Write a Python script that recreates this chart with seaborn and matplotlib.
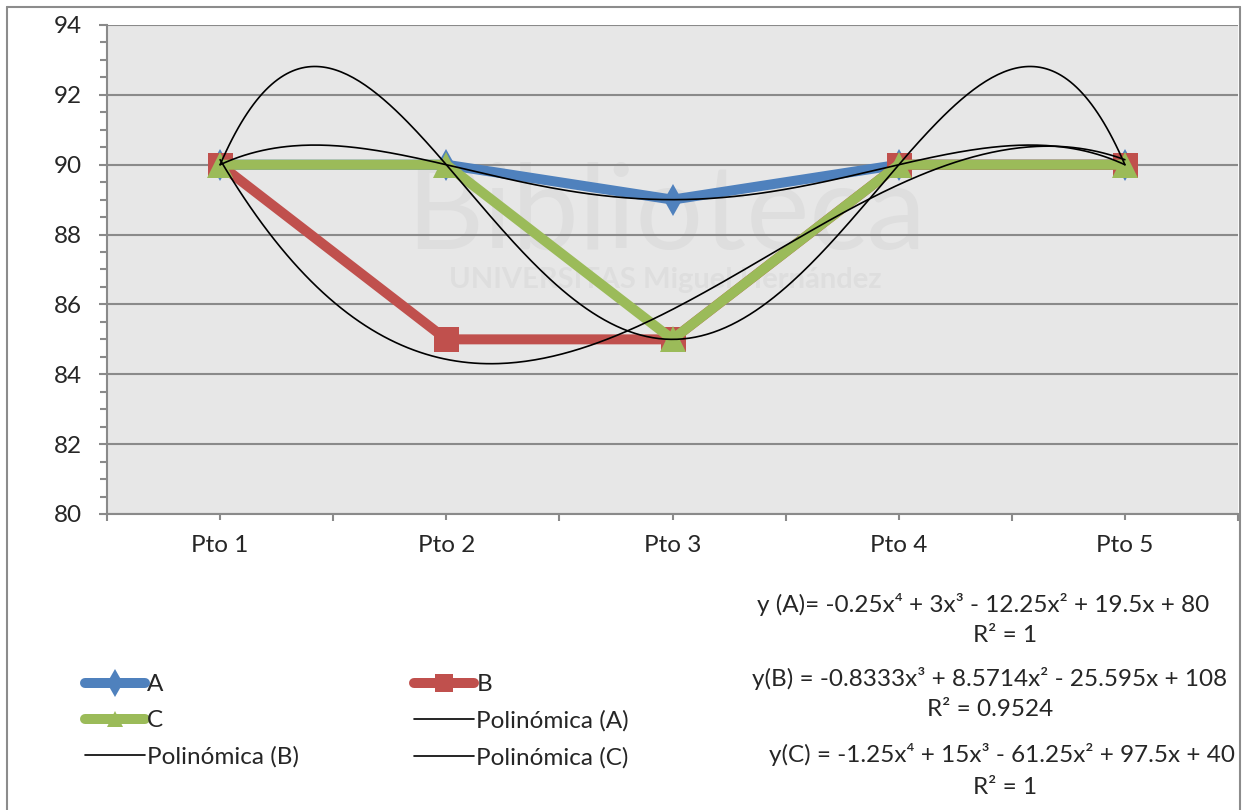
import numpy as np
import pandas as pd
import matplotlib
matplotlib.use("Agg")
import matplotlib.pyplot as plt
import seaborn as sns
from matplotlib.lines import Line2D
from matplotlib.ticker import MultipleLocator, FixedLocator

# ---- data ----
categories = ["Pto 1", "Pto 2", "Pto 3", "Pto 4", "Pto 5"]
serie_a = [90, 90, 89, 90, 90]
serie_b = [90, 85, 85, 90, 90]
serie_c = [90, 90, 85, 90, 90]
series_names = ["A", "B", "C"]
trend_degrees = [4, 3, 4]
y_ticks = [80, 82, 84, 86, 88, 90, 92, 94]
equations = [
    "y (A)= -0.25x⁴ + 3x³ - 12.25x² + 19.5x + 80",
    "R² = 1",
    "y(B) = -0.8333x³ + 8.5714x² - 25.595x + 108",
    "R² = 0.9524",
    "y(C) = -1.25x⁴ + 15x³ - 61.25x² + 97.5x + 40",
    "R² = 1",
]

sns.set_style("white")
plt.rcParams["font.family"] = ["Lato", "DejaVu Sans"]

colors = ["#4F81BD", "#C0504D", "#9BBB59"]
markers = ["d", "s", "^"]
msizes = [16, 18, 19]
FS = 17.5

W, H = 1243, 810
fig = plt.figure(figsize=(W / 100, H / 100), dpi=100)
ax = fig.add_axes([107 / W, 1 - 514 / H, (1238 - 107) / W, (514 - 25) / H])
ax.set_facecolor("#E7E7E7")

# watermark (faint)
ax.text(1.97, 88.55, "Biblioteca", fontsize=86, color="#DEDEDE", ha="center", va="center", zorder=0.5)
ax.text(1.97, 86.7, "UNIVERSITAS Miguel Hernández", fontsize=21, color="#DEDEDE",
        ha="center", va="center", fontweight="bold", zorder=0.5)

xs = np.arange(len(categories))
all_series = [serie_a, serie_b, serie_c]
for name, vals, col, mk, ms in zip(series_names, all_series, colors, markers, msizes):
    df = pd.DataFrame({"x": xs, "y": vals})
    sns.lineplot(data=df, x="x", y="y", ax=ax, color=col, linewidth=7.2, marker=mk,
                 markersize=ms, markeredgewidth=0, solid_joinstyle="round",
                 solid_capstyle="round", zorder=3)

# polynomial trend lines (fit on x = 1..5)
xfit = np.arange(1, len(categories) + 1)
xd = np.linspace(1, len(categories), 300)
for vals, deg in zip(all_series, trend_degrees):
    coef = np.polyfit(xfit, vals, deg)
    yd = np.polyval(coef, xd)
    sns.lineplot(x=xd - 1, y=yd, ax=ax, color="black", linewidth=1.2, zorder=4)

ax.set_xlim(-0.5, len(categories) - 0.5)
ax.set_ylim(80, 94)
ax.set_xticks(xs)
ax.set_xticklabels(categories)
ax.xaxis.set_minor_locator(FixedLocator(np.arange(-0.5, len(categories), 1.0)))
ax.set_yticks(y_ticks)
ax.yaxis.set_minor_locator(MultipleLocator(0.5))
ax.set_xlabel("")
ax.set_ylabel("")

grid_c = "#8A8A8A"
ax.grid(axis="y", which="major", color=grid_c, linewidth=1.5)
ax.grid(axis="x", visible=False)
ax.set_axisbelow(True)
for s in ["top", "right"]:
    ax.spines[s].set_visible(False)
for s in ["left", "bottom"]:
    ax.spines[s].set_color(grid_c)
    ax.spines[s].set_linewidth(1.5)

ax.tick_params(axis="y", which="major", direction="out", length=6, width=1.5,
               color=grid_c, labelsize=FS, pad=12, left=True)
ax.tick_params(axis="y", which="minor", direction="out", length=5, width=1.5,
               color=grid_c, left=True)
ax.tick_params(axis="x", which="major", direction="out", length=4, width=1.5,
               color=grid_c, labelsize=FS, pad=11, bottom=True)
ax.tick_params(axis="x", which="minor", direction="out", length=5, width=1.5,
               color=grid_c, bottom=True)

# figure border (left, top, right)
bc = "#8C8C8C"
fig.add_artist(Line2D([7 / W, 7 / W], [0, 1 - 7 / H], color=bc, linewidth=1.5, transform=fig.transFigure))
fig.add_artist(Line2D([7 / W, 1240 / W], [1 - 7 / H, 1 - 7 / H], color=bc, linewidth=1.5, transform=fig.transFigure))
fig.add_artist(Line2D([1240 / W, 1240 / W], [0, 1 - 7 / H], color=bc, linewidth=1.5, transform=fig.transFigure))

# legend
def series_handle(i, ms):
    return Line2D([], [], color=colors[i], linewidth=7.2, marker=markers[i], markersize=ms,
                  markeredgewidth=0, solid_capstyle="round")

poly = lambda: Line2D([], [], color="black", linewidth=1.2)
handles = [series_handle(0, 14), series_handle(2, 12), poly(),
           series_handle(1, 13), poly(), poly()]
labels = ["A", "C", "Polinómica (B)", "B", "Polinómica (A)", "Polinómica (C)"]
fig.legend(handles, labels, ncol=2, loc="upper left", bbox_to_anchor=(85 / W, 1 - 674 / H),
           frameon=False, fontsize=FS, handlelength=2.45, handletextpad=0.1,
           columnspacing=4.75, labelspacing=0.62, borderpad=0, borderaxespad=0)

# equation texts
eq_pos = [(983, 605), (1005, 636), (990, 679), (990, 710), (1002, 755), (1005, 787)]
for txt, (px, py) in zip(equations, eq_pos):
    fig.text(px / W, 1 - py / H, txt, ha="center", va="center", fontsize=FS)

fig.savefig("out.png", dpi=100)
